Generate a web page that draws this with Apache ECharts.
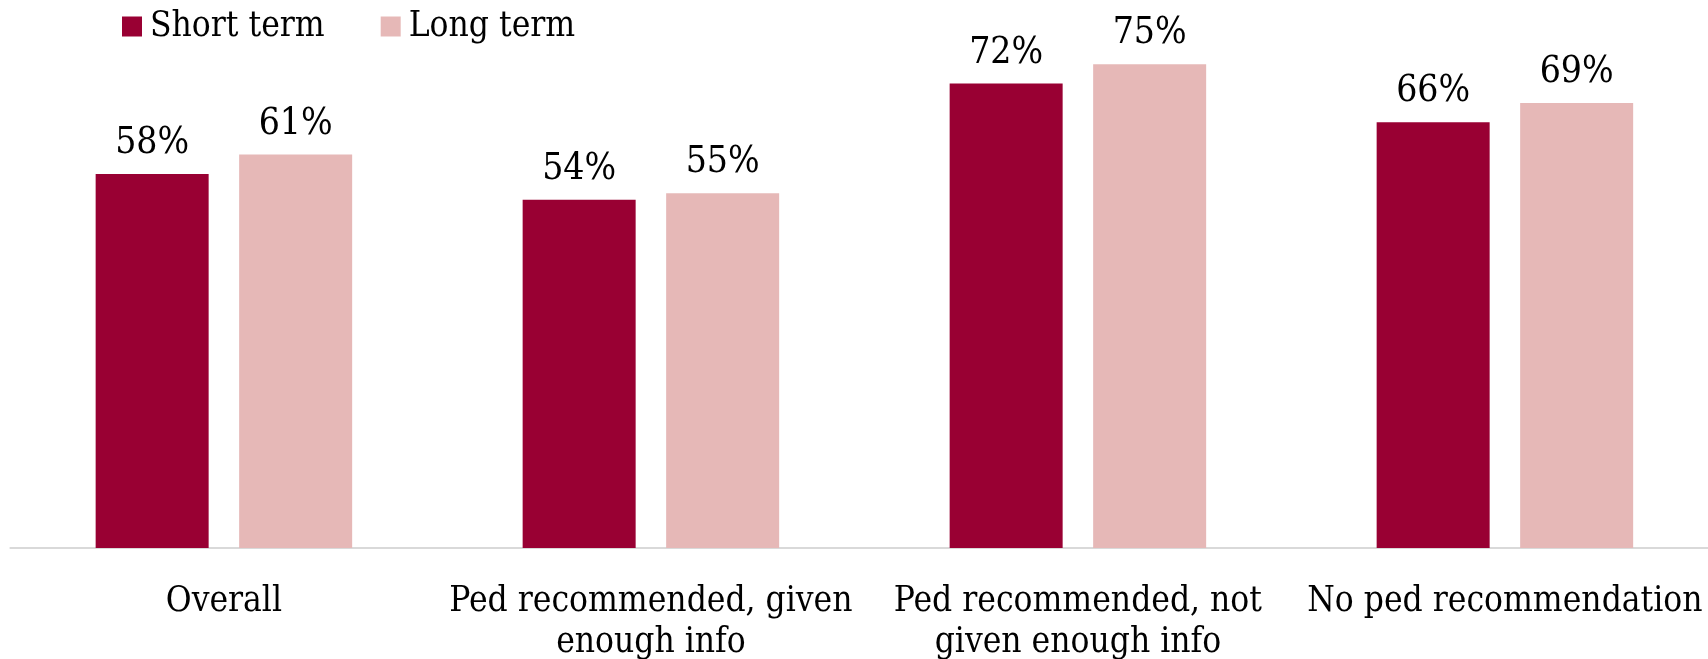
<!DOCTYPE html>
<html>
<head>
<meta charset="utf-8">
<script src="https://cdn.jsdelivr.net/npm/echarts@6/dist/echarts.min.js"></script>
<style>
html,body{margin:0;padding:0;background:#fff;}
#chart{width:1708px;height:659px;}
</style>
</head>
<body>
<div id="chart"></div>
<script>
const categories = ["Overall", "Ped recommended, given\nenough info", "Ped recommended, not\ngiven enough info", "No ped recommendation"];
const shortTerm = [58, 54, 72, 66];
const longTerm = [61, 55, 75, 69];
const seriesNames = ["Short term", "Long term"];

const FONT = "'DejaVu Serif Condensed', 'DejaVu Serif', serif";
const chart = echarts.init(document.getElementById('chart'), null, {renderer: 'canvas'});
const labelCfg = {
  show: true,
  position: 'top',
  distance: 12,
  color: '#000',
  fontFamily: FONT,
  fontSize: 37,
  formatter: p => p.value + '%'
};
chart.setOption({
  animation: false,
  legend: {
    data: seriesNames,
    left: 117,
    top: 4,
    itemWidth: 20,
    itemHeight: 20,
    itemGap: 56,
    icon: 'rect',
    textStyle: {fontFamily: FONT, fontSize: 35, color: '#000', padding: [0, 0, 0, 3]}
  },
  grid: {left: 10.4, width: 1708, top: 32, height: 516, containLabel: false, outerBoundsMode: 'none'},
  xAxis: {
    type: 'category',
    data: categories,
    axisLine: {show: true, lineStyle: {color: '#d9d9d9', width: 2}},
    axisTick: {show: false},
    axisLabel: {
      interval: 0,
      color: '#000',
      fontFamily: FONT,
      fontSize: 35,
      lineHeight: 41,
      margin: 33
    }
  },
  yAxis: {
    type: 'value',
    min: 0,
    max: 80,
    show: false,
    splitLine: {show: false}
  },
  series: [
    {name: seriesNames[0], type: 'bar', data: shortTerm, barWidth: 113, barGap: '27%',
     itemStyle: {color: '#990033'}, label: labelCfg},
    {name: seriesNames[1], type: 'bar', data: longTerm, barWidth: 113,
     itemStyle: {color: '#e6b8b7'}, label: labelCfg}
  ]
});
</script>
</body>
</html>
